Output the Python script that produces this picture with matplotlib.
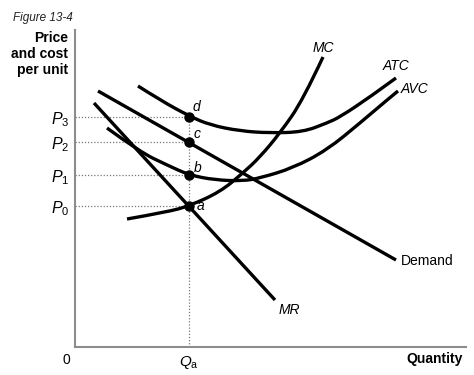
import matplotlib
matplotlib.use("Agg")
import matplotlib.pyplot as plt
from matplotlib.path import Path
from matplotlib.patches import PathPatch

plt.rcParams['font.family'] = ['Liberation Sans', 'DejaVu Sans']
plt.rcParams['mathtext.fontset'] = 'custom'
plt.rcParams['mathtext.rm'] = 'Liberation Sans'
plt.rcParams['mathtext.it'] = 'Liberation Sans:italic'
plt.rcParams['mathtext.bf'] = 'Liberation Sans:bold'

# ---- data (chart units) ----
Qa = 114
price_levels = [141, 172, 205, 230]          # P0, P1, P2, P3
price_labels = [r'$P_0$', r'$P_1$', r'$P_2$', r'$P_3$']
point_labels = ['a', 'b', 'c', 'd']

demand_q = [23, 321]
demand_p = [256, 87]
mr_q = [19, 200]
mr_p = [244, 47]

mc_q = [52, 92, 114, 145, 168, 185, 205, 228, 248]
mc_p = [128, 135, 141, 155, 174, 190, 214, 247, 290]

atc_q = [63, 85, 114, 135, 165, 195, 228, 252, 265, 295, 321]
atc_p = [261, 247, 231, 222, 216, 214, 215, 224, 230, 250, 269]

avc_q = [32, 65, 92, 114, 140, 168, 185, 218, 252, 285, 312, 323]
avc_p = [219, 195, 182, 172, 167, 166, 169, 179, 197, 224, 247, 256]

XMAX, YMAX = 391, 317

fig = plt.figure(figsize=(4.74, 3.75), dpi=100)
ax = fig.add_axes([75/474, 28/375, 391/474, 317/375])
ax.set_xlim(0, XMAX)
ax.set_ylim(0, YMAX)
for s in ['top', 'right']:
    ax.spines[s].set_visible(False)
for s in ['left', 'bottom']:
    ax.spines[s].set_color('#8c8c8c')
    ax.spines[s].set_linewidth(1.5)
ax.set_xticks([])
ax.set_yticks([])

LW = 2.4

def smooth(qs, ps):
    pts = list(zip(qs, ps))
    verts = [pts[0]]
    codes = [Path.MOVETO]
    for i in range(1, len(pts) - 1):
        if i < len(pts) - 2:
            end = ((pts[i][0] + pts[i+1][0]) / 2, (pts[i][1] + pts[i+1][1]) / 2)
        else:
            end = pts[-1]
        verts += [pts[i], end]
        codes += [Path.CURVE3, Path.CURVE3]
    patch = PathPatch(Path(verts, codes), facecolor='none', edgecolor='black',
                      lw=LW, capstyle='butt', clip_on=False, zorder=3)
    ax.add_patch(patch)

# dotted guides
for p in price_levels:
    ax.plot([0, Qa], [p, p], color='#777777', lw=0.9, ls=(0, (1, 1.5)), zorder=1)
ax.plot([Qa, Qa], [0, max(price_levels)], color='#777777', lw=0.9, ls=(0, (1, 1.5)), zorder=1)

# straight curves
ax.plot(demand_q, demand_p, color='black', lw=LW, solid_capstyle='butt', zorder=3)
ax.plot(mr_q, mr_p, color='black', lw=LW, solid_capstyle='butt', zorder=3)
smooth(mc_q, mc_p)
smooth(atc_q, atc_p)
smooth(avc_q, avc_p)

# dots
ax.plot([Qa]*4, price_levels, 'o', color='black', ms=6.5, zorder=4)

# price labels
for p, lab in zip(price_levels, price_labels):
    ax.annotate(lab, xy=(0, p), xytext=(-4, -2), textcoords='offset points',
                ha='right', va='center', fontsize=11.5, annotation_clip=False)

# point labels
offsets = [(8, 0), (6, 5), (6, 6), (5, 7)]
for p, lab, off in zip(price_levels, point_labels, offsets):
    ax.annotate(lab, xy=(Qa, p), xytext=off, textcoords='offset points',
                ha='center', va='center', fontsize=10, style='italic')

# curve labels
ax.text(248, 299, 'MC', ha='center', va='center', fontsize=10, style='italic')
ax.text(321, 281, 'ATC', ha='center', va='center', fontsize=10, style='italic')
ax.text(340, 258, 'AVC', ha='center', va='center', fontsize=10, style='italic')
ax.text(326, 86, 'Demand', ha='left', va='center', fontsize=10)
ax.text(214, 37, 'MR', ha='center', va='center', fontsize=10, style='italic')

# axis labels
ax.annotate('0', xy=(0, 0), xytext=(-6, -9), textcoords='offset points',
            ha='center', va='center', fontsize=10, annotation_clip=False)
ax.annotate(r'$Q_\mathrm{a}$', xy=(Qa, 0), xytext=(0, -11), textcoords='offset points',
            ha='center', va='center', fontsize=11, annotation_clip=False)
ax.annotate('Quantity', xy=(XMAX, 0), xytext=(-2, -9), textcoords='offset points',
            ha='right', va='center', fontsize=10, fontweight='bold', annotation_clip=False)

fig.text(13/474, 1 - 18/375, 'Figure 13-4', ha='left', va='center',
         fontsize=8.5, style='italic', color='#222222')
fig.text(68/474, 1 - 54/375, 'Price\nand cost\nper unit', ha='right', va='center',
         fontsize=10, fontweight='bold', linespacing=1.15)

fig.savefig('out.png', dpi=100)
